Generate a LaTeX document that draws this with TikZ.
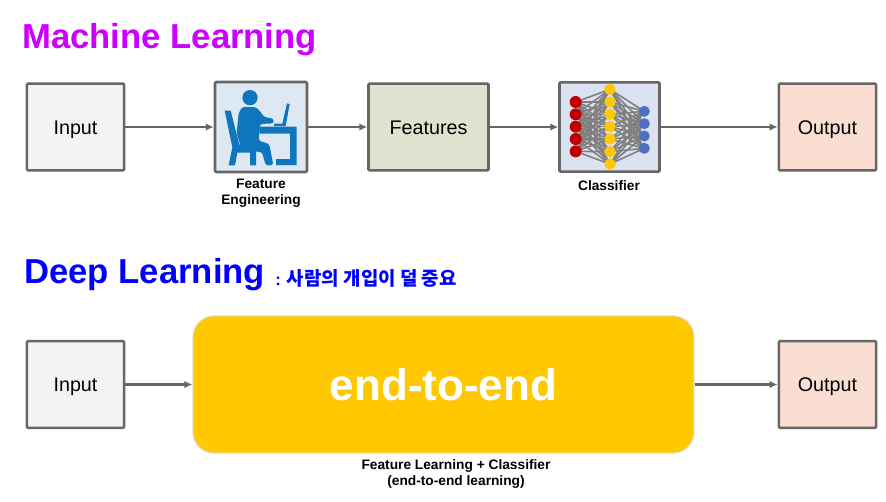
\documentclass[tikz,border=0pt]{standalone}
\usepackage{fontspec}
\setmainfont{Liberation Sans}
\newfontfamily\cjk{Noto Sans CJK KR}
\usepackage{xcolor}
\usetikzlibrary{
    arrows.meta,
    positioning
}
\definecolor{dlGray}{HTML}{666666}
\definecolor{dlInput}{HTML}{F3F3F3}
\definecolor{dlFeature}{HTML}{DFE2D1}
\definecolor{dlOutput}{HTML}{FADED2}
\definecolor{dlIconBg}{HTML}{DEE8F3}
\definecolor{dlIcon}{HTML}{0F76BE}
\definecolor{dlNetBg}{HTML}{DAE1F1}
\definecolor{dlYellow}{HTML}{FFC800}
\definecolor{dlRed}{HTML}{C00000}
\definecolor{dlBlue}{HTML}{4F6FBF}
\definecolor{dlMagenta}{HTML}{CC00FF}
\tikzset{
    dlBox/.style={
        draw=dlGray,
        line width=1.9pt,
        rounded corners=0.8pt,
        inner sep=0pt,
        minimum width=73pt,
        minimum height=65pt,
        text height=10.6pt,
        text depth=0pt,
        align=center,
        font=\fontsize{14.8}{17}\selectfont
    },
    dlArrow/.style={-{Latex[length=2.1mm,width=2.0mm]},line width=1.7pt,draw=dlGray},
    dlTitle/.style={anchor=west,inner sep=0pt,font=\fontsize{26}{30}\selectfont\bfseries},
    dlNote/.style={align=center,inner sep=0pt,font=\fontsize{10.3}{12}\selectfont\bfseries}
}
\begin{document}
\begin{tikzpicture}[x=0.75pt,y=-0.75pt]
    \useasboundingbox (0,0) rectangle (886,501);

    % machine learning row
    \node[dlTitle,text=dlMagenta] (mlTitle) at (22,40) {Machine Learning};
    \node[dlBox,fill=dlInput] (mlInput) at (75.5,127) {Input};
    \node[dlBox,fill=dlIconBg,minimum width=69pt,minimum height=67.5pt] (mlEng) at (261,127) {};
    \node[dlBox,fill=dlFeature,minimum width=90pt] (mlFeat) at (428.5,127) {Features};
    \node[dlBox,fill=dlNetBg,minimum width=75pt,minimum height=67pt] (mlNet) at (609.5,127) {};
    \node[dlBox,fill=dlOutput] (mlOutput) at (827.5,127) {Output};
    \node[dlNote] (mlEngText) at (261,193) {Feature\\Engineering};
    \node[dlNote] (mlNetText) at (609,186) {Classifier};

    \draw[dlArrow] (mlInput) -- (mlEng);
    \draw[dlArrow] (mlEng) -- (mlFeat);
    \draw[dlArrow] (mlFeat) -- (mlNet);
    \draw[dlArrow] (mlNet) -- (mlOutput);

    % person at the desk
    \begin{scope}[shift={(200,70)},x=0.25pt,y=-0.25pt,fill=dlIcon]
        \fill (150,83) circle (23);
        \fill[rounded corners=2pt] (116,128) -- (128,110) -- (170,112) -- (194,142) -- (220,145)
            -- (222,160) -- (180,162) -- (176,212) -- (208,222) -- (220,286) -- (197,286)
            -- (186,246) -- (126,242) -- (110,190) -- cycle;
        \fill (74,122) -- (92,122) -- (118,224) -- (168,224) -- (168,286) -- (150,286) -- (150,248)
            -- (112,248) -- (105,286) -- (86,286) -- (97,232) -- cycle;
        \fill (178,170) -- (290,170) -- (290,285) -- (228,285) -- (228,267) -- (270,267)
            -- (270,191) -- (178,191) -- cycle;
        \fill (261,100) -- (269,102) -- (257,168) -- (222,168) -- (222,161) -- (247,161) -- cycle;
    \end{scope}

    % small network
    \begin{scope}[shift={(545,70)},x=0.25pt,y=-0.25pt]
        \foreach \a in {96,133,170,207,244}
            \foreach \b in {58,96,133,170,207,245,282}
                \draw[gray,line width=1.2pt] (92,\a) -- (195,\b);
        \foreach \a in {58,96,133,170,207,245,282}
            \foreach \b in {124,161,198,235}
                \draw[gray,line width=1.2pt] (195,\a) -- (298,\b);
        \foreach \a in {96,133,170,207,244}
            \fill[dlRed] (92,\a) circle (18);
        \foreach \a in {58,96,133,170,207,245,282}
            \fill[dlYellow] (195,\a) circle (17);
        \foreach \a in {124,161,198,235}
            \fill[dlBlue] (298,\a) circle (16.5);
    \end{scope}

    % deep learning row
    \node[dlTitle,text=blue] (dlHead) at (24,275) {Deep Learning};
    \node[anchor=west,inner sep=0pt,text=blue,font=\fontsize{12.5}{14}\selectfont\bfseries] (dlSub) at (275,278.5)
        {: {\cjk\fontsize{14.2}{16}\selectfont 사람의 개입이 덜 중요}};
    \node[dlBox,fill=dlInput] (dlInput) at (75.5,384.5) {Input};
    \node[draw=gray!25,line width=0.8pt,fill=dlYellow,rounded corners=16pt,inner sep=0pt,
        minimum width=376pt,minimum height=103pt,text=white,text height=24pt,text depth=0pt,
        font=\fontsize{33}{38}\selectfont\bfseries] (dlEnd) at (443.5,384.5) {end-to-end};
    \node[dlBox,fill=dlOutput] (dlOutput) at (827.5,384.5) {Output};
    \node[dlNote] (dlEndText) at (456,473.5) {Feature Learning + Classifier\\(end-to-end learning)};

    \draw[dlArrow] (dlInput) -- (dlEnd);
    \draw[dlArrow] (dlEnd) -- (dlOutput);
\end{tikzpicture}
\end{document}
